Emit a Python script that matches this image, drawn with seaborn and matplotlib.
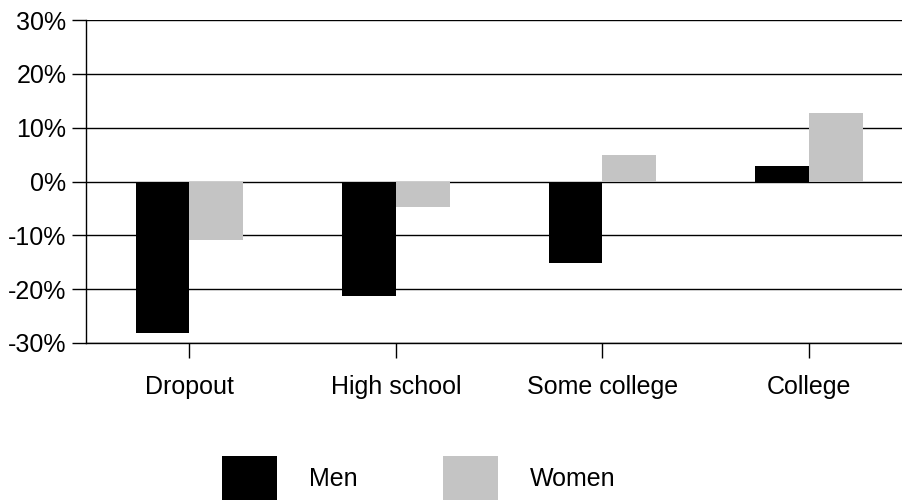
import numpy as np
import pandas as pd
import matplotlib
matplotlib.use('Agg')
import matplotlib.pyplot as plt
import seaborn as sns

# ========== data ==========
categories = ['Dropout', 'High school', 'Some college', 'College']
men = [-28.1, -21.3, -15.2, 2.8]
women = [-10.8, -4.8, 5.0, 12.8]
y_ticks = [-30, -20, -10, 0, 10, 20, 30]

df = pd.DataFrame({
    'category': categories * 2,
    'group': ['Men'] * len(categories) + ['Women'] * len(categories),
    'value': men + women,
})

sns.set_style('white')
plt.rcParams['font.family'] = ['Liberation Sans', 'DejaVu Sans']
plt.rcParams['text.color'] = 'black'
plt.rcParams['xtick.color'] = 'black'
plt.rcParams['ytick.color'] = 'black'

fig = plt.figure(figsize=(9.02, 5.0), dpi=100)
ax = fig.add_axes([86 / 902, 1 - 343 / 500, 1 - 86 / 902, (343 - 20) / 500])

sns.barplot(data=df, x='category', y='value', hue='group', order=categories,
            hue_order=['Men', 'Women'], palette=['#000000', '#c4c4c4'],
            width=0.52, saturation=1, linewidth=0, ax=ax, zorder=3)

ax.set_ylim(-30, 30)
ax.set_xlim(-0.5, 3.45)
ax.set_yticks(y_ticks)
ax.set_yticklabels([f'{t}%' for t in y_ticks])
ax.tick_params(axis='x', labelsize=18, bottom=True, length=11, width=1, pad=12)
ax.tick_params(axis='y', labelsize=18, left=True, length=10, width=1, pad=4)
ax.set_xlabel('')
ax.set_ylabel('')
ax.grid(axis='y', color='black', linewidth=1, zorder=0)
ax.set_axisbelow(True)
for s in ['top', 'right']:
    ax.spines[s].set_visible(False)
for s in ['left', 'bottom']:
    ax.spines[s].set_color('black')
    ax.spines[s].set_linewidth(1)

handles, labels = ax.get_legend_handles_labels()
ax.get_legend().remove()
fig.legend(handles, labels, loc='center', bbox_to_anchor=(0.464, 0.044), ncol=2,
           frameon=False, fontsize=18, handlelength=2.2, handleheight=2.39,
           handletextpad=1.28, columnspacing=3.4)

fig.savefig('out.png', dpi=100)
